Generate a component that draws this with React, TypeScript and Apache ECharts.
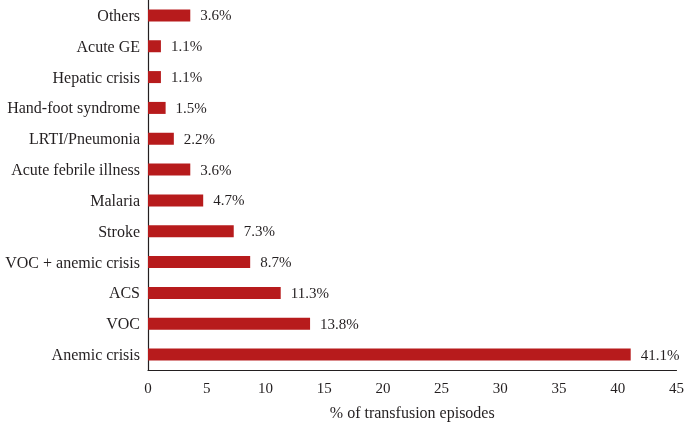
import React, { useEffect, useRef } from "react";
import * as echarts from "echarts";

const categories = [
  "Anemic crisis",
  "VOC",
  "ACS",
  "VOC + anemic crisis",
  "Stroke",
  "Malaria",
  "Acute febrile illness",
  "LRTI/Pneumonia",
  "Hand-foot syndrome",
  "Hepatic crisis",
  "Acute GE",
  "Others",
];
const values = [41.1, 13.8, 11.3, 8.7, 7.3, 4.7, 3.6, 2.2, 1.5, 1.1, 1.1, 3.6];
const xTicks = [0, 5, 10, 15, 20, 25, 30, 35, 40, 45];
const xTitle = "% of transfusion episodes";

const FONT = "Liberation Serif";

export default function App() {
  const ref = useRef<HTMLDivElement>(null);
  useEffect(() => {
    if (!ref.current) return;
    const chart = echarts.init(ref.current, undefined, { renderer: "svg" });
    chart.setOption({
      animation: false,
      textStyle: { fontFamily: FONT },
      grid: { left: 148, right: 7, top: 0, bottom: 46, containLabel: false },
      xAxis: {
        type: "value",
        min: xTicks[0],
        max: xTicks[xTicks.length - 1],
        interval: 5,
        name: xTitle,
        nameLocation: "middle",
        nameGap: 34,
        nameTextStyle: { fontFamily: FONT, fontSize: 16, color: "#231f20" },
        axisLine: { show: true, lineStyle: { color: "#231f20", width: 1.2 } },
        axisTick: { show: false },
        splitLine: { show: false },
        axisLabel: { fontFamily: FONT, fontSize: 15, color: "#231f20", margin: 10 },
      },
      yAxis: {
        type: "category",
        data: categories,
        axisLine: { show: true, lineStyle: { color: "#231f20", width: 1.2 } },
        axisTick: { show: false },
        axisLabel: { fontFamily: FONT, fontSize: 16, color: "#231f20", margin: 8 },
      },
      series: [
        {
          type: "bar",
          data: values,
          barWidth: 12,
          itemStyle: { color: "#b71b1c" },
          label: {
            show: true,
            position: "right",
            distance: 10,
            formatter: (p: any) => `${p.value.toFixed(1)}%`,
            fontFamily: FONT,
            fontSize: 15,
            color: "#231f20",
          },
        },
      ],
    });
    return () => chart.dispose();
  }, []);
  return (
    <div
      ref={ref}
      style={{ position: "fixed", left: 0, top: 0, width: 687, height: 425 }}
    />
  );
}
